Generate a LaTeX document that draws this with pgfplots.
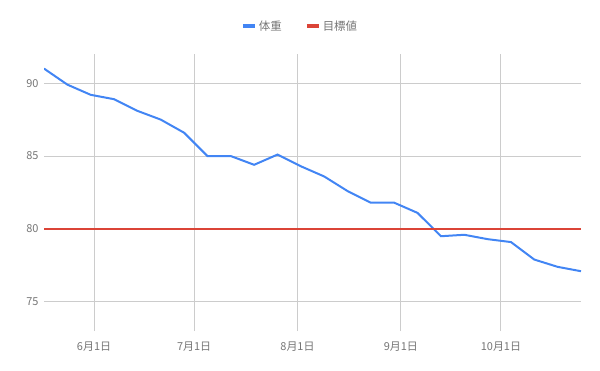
\documentclass[border=0pt]{standalone}
\usepackage{fontspec}
\setmainfont{Noto Sans CJK JP}
\usepackage{pgfplots}
\pgfplotsset{compat=1.18}
\definecolor{gblue}{HTML}{4285F4}
\definecolor{gred}{HTML}{DB4437}
\definecolor{ggrid}{HTML}{CCCCCC}
\definecolor{gtext}{HTML}{757575}
\begin{document}
\begin{tikzpicture}
\useasboundingbox (-44bp,-40bp) rectangle (556bp,331bp);
\begin{axis}[
  at={(0,0)}, anchor=south west,
  scale only axis, width=537bp, height=277bp,
  xmin=-15, xmax=146, ymin=73, ymax=92,
  xtick={0,30,61,92,122},
  xticklabels={6月1日,7月1日,8月1日,9月1日,10月1日},
  ytick={75,80,85,90},
  grid=major,
  major grid style={ggrid, line width=1bp},
  axis line style={draw=none},
  major tick length=0pt,
  tick label style={font=\fontsize{11}{13}\selectfont, text=gtext},
  /pgf/number format/assume math mode=true,
  yticklabel style={xshift=-2bp},
  xticklabel style={yshift=-7bp},
  legend style={draw=none, fill=none, font=\fontsize{11.5}{13}\selectfont, text=gtext,
    at={(0.4767,1.101)}, anchor=center, legend columns=2,
    /tikz/every even column/.append style={column sep=21bp}},
  legend image code/.code={\draw[line width=4bp] (0bp,0bp) -- (12bp,0bp);},
]
\addplot[gblue, line width=2bp] coordinates {
(-15,91.0) (-8,89.9) (-1,89.2) (6,88.9) (13,88.1) (20,87.5) (27,86.6) (34,85.0)
(41,85.0) (48,84.4) (55,85.1) (62,84.3) (69,83.6) (76,82.6) (83,81.8) (90,81.8)
(97,81.1) (104,79.5) (111,79.6) (118,79.3) (125,79.1) (132,77.9) (139,77.4) (146,77.1)
};
\addlegendentry{体重}
\addplot[gred, line width=2bp] coordinates {(-15,80) (146,80)};
\addlegendentry{目標値}
\end{axis}
\end{tikzpicture}
\end{document}
